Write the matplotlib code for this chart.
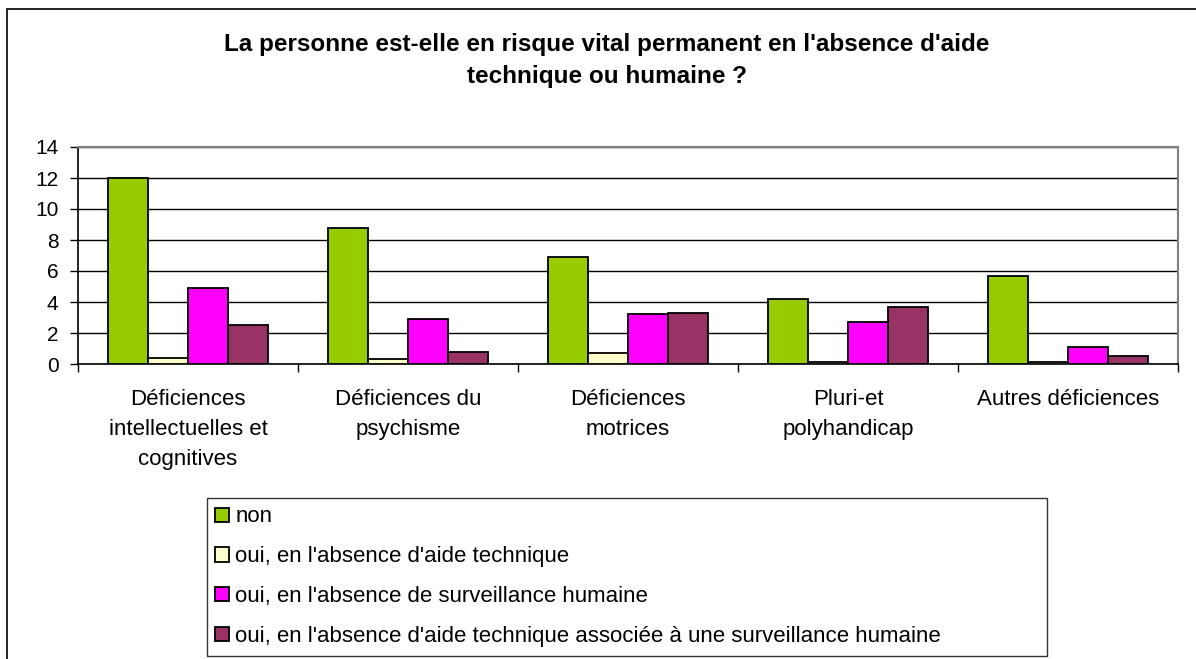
import numpy as np
import matplotlib.pyplot as plt
from matplotlib.patches import Rectangle

plt.rcParams['font.family'] = ['Liberation Sans', 'DejaVu Sans']

categories = ['Déficiences\nintellectuelles et\ncognitives', 'Déficiences du\npsychisme',
              'Déficiences\nmotrices', 'Pluri-et\npolyhandicap', 'Autres déficiences']
series_names = ['non', "oui, en l'absence d'aide technique",
                "oui, en l'absence de surveillance humaine",
                "oui, en l'absence d'aide technique associée à une surveillance humaine"]
non = [12.0, 8.8, 6.9, 4.2, 5.7]
aide_technique = [0.4, 0.3, 0.7, 0.1, 0.1]
surveillance = [4.9, 2.9, 3.2, 2.7, 1.1]
aide_et_surveillance = [2.5, 0.8, 3.3, 3.7, 0.5]
colors = ['#99CC00', '#FFFFCC', '#FF00FF', '#993366']
title = "La personne est-elle en risque vital permanent en l'absence d'aide\ntechnique ou humaine ?"

W, H = 1196, 659
fig = plt.figure(figsize=(W / 100, H / 100), dpi=100)
ax = fig.add_axes([78 / W, 1 - 364 / H, 1100 / W, 217 / H])

values = [non, aide_technique, surveillance, aide_et_surveillance]
x = np.arange(len(categories))
bw = 1 / 5.5
for i, (vals, c, name) in enumerate(zip(values, colors, series_names)):
    ax.bar(x + (i - 1.5) * bw, vals, bw, color=c, edgecolor='black', linewidth=1.3,
           label=name, zorder=3)

ax.set_xlim(-0.5, len(categories) - 0.5)
ax.set_ylim(0, 14)
ax.set_yticks(np.arange(0, 15, 2))
ax.yaxis.grid(True, color='black', linewidth=1, zorder=0)
ax.set_axisbelow(True)
ax.set_xticks(np.arange(-0.5, len(categories), 1))
ax.set_xticklabels([])
ax.set_xticks(x, minor=True)
ax.set_xticklabels(categories, minor=True, fontsize=16, linespacing=1.56)
ax.tick_params(axis='x', which='minor', length=0, pad=18)
ax.tick_params(axis='x', which='major', direction='out', length=6, width=1)
ax.tick_params(axis='y', direction='out', length=6, width=1, labelsize=15, pad=8)
for s in ['top', 'right']:
    ax.spines[s].set_color('#808080')
    ax.spines[s].set_linewidth(1.5)
ax.spines['left'].set_linewidth(1.2)
ax.spines['bottom'].set_linewidth(1.2)

fig.text(607 / W, 1 - 61 / H, title, ha='center', va='center', fontsize=17.5,
         fontweight='bold', linespacing=1.5)

leg = fig.legend(loc='upper left', bbox_to_anchor=(207 / W, 1 - 657 / H, 840 / W, 159 / H),
                 mode='expand', fontsize=16, frameon=True, fancybox=False, edgecolor='black',
                 handlelength=0.6, handleheight=0.6, handletextpad=0.3, labelspacing=0.85,
                 borderpad=0.38, borderaxespad=0)
leg.get_frame().set_linewidth(1)

fig.patches.append(Rectangle((7 / W, -0.1), 2, 1.1 - 9 / H, transform=fig.transFigure,
                             fill=False, edgecolor='black', linewidth=1.2))

fig.savefig('out.png', dpi=100)
